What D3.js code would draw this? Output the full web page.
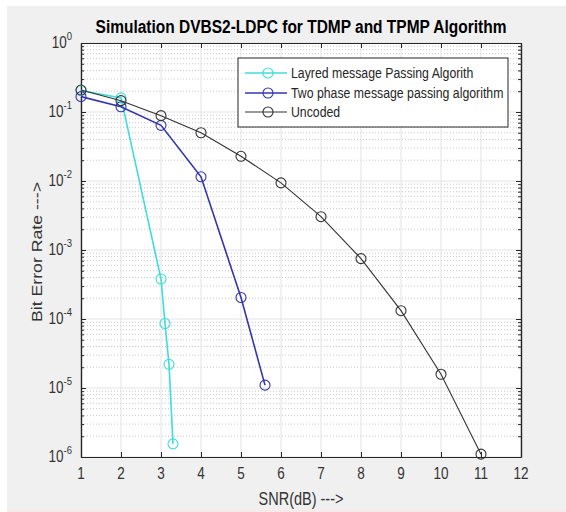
<!DOCTYPE html>
<html lang="en">
<head>
    <meta charset="UTF-8">
    <title>Simulation DVBS2-LDPC for TDMP and TPMP Algorithm</title>
    <style>
        html, body { margin: 0; padding: 0; background: #ffffff; }
        svg { display: block; font-family: "Liberation Sans", Arial, sans-serif; }
    </style>
    <script src="https://cdnjs.cloudflare.com/ajax/libs/d3/7.8.5/d3.min.js"></script>
</head>
<body>
    <div id="chart"></div>
    <script>
        // Data
        const snrLayered = [1, 2, 3, 3.1, 3.2, 3.3];
        const berLayered = [0.205, 0.16, 3.8e-4, 8.6e-5, 2.2e-5, 1.55e-6];

        const snrTwoPhase = [1, 2, 3, 4, 5, 5.6];
        const berTwoPhase = [0.167, 0.119, 0.064, 0.0115, 2.05e-4, 1.1e-5];

        const snrUncoded = [1, 2, 3, 4, 5, 6, 7, 8, 9, 10, 11];
        const berUncoded = [0.208, 0.146, 0.0885, 0.05, 0.0228, 0.0094, 0.00304, 7.5e-4, 1.32e-4, 1.58e-5, 1.1e-6];

        const seriesNames = ["Layred message Passing Algorith", "Two phase message passing algorithm", "Uncoded"];
        const xTicks = [1, 2, 3, 4, 5, 6, 7, 8, 9, 10, 11, 12];
        const yExponents = [0, -1, -2, -3, -4, -5, -6];

        const W = 566, H = 512;
        const margin = { top: 43, right: 45, bottom: 55, left: 81 };
        const width = W - margin.left - margin.right;   // 440
        const height = H - margin.top - margin.bottom;  // 414
        const stretch = 1.22; // the source picture is a bit taller than wide, text looks stretched

        const svg = d3.select("#chart").append("svg")
            .attr("width", W)
            .attr("height", H);

        // figure background
        svg.append("rect").attr("x", 7).attr("y", 6).attr("width", W - 7).attr("height", 504).attr("fill", "#f0f0f0");
        svg.append("rect").attr("x", 7).attr("y", 510).attr("width", W - 7).attr("height", 2).attr("fill", "#fbe9ea");

        const g = svg.append("g").attr("transform", `translate(${margin.left},${margin.top})`);

        const x = d3.scaleLinear().domain([1, 12]).range([0, width]);
        const y = d3.scaleLog().domain([1e-6, 1]).range([height, 0]);

        g.append("rect").attr("width", width).attr("height", height).attr("fill", "#ffffff");

        // minor log values
        const minorVals = [];
        for (let e = -6; e < 0; e++) {
            for (let m = 2; m <= 9; m++) minorVals.push(m * Math.pow(10, e));
        }

        // minor grid (dotted)
        g.append("g").selectAll("line").data(minorVals).enter().append("line")
            .attr("x1", 0).attr("x2", width)
            .attr("y1", d => y(d)).attr("y2", d => y(d))
            .attr("stroke", "#c8c8c8").attr("stroke-width", 1)
            .attr("stroke-dasharray", "1,2");

        // major grid
        g.append("g").selectAll("line").data(xTicks).enter().append("line")
            .attr("x1", d => x(d)).attr("x2", d => x(d))
            .attr("y1", 0).attr("y2", height)
            .attr("stroke", "#e3e3e3").attr("stroke-width", 1);
        g.append("g").selectAll("line").data(yExponents).enter().append("line")
            .attr("x1", 0).attr("x2", width)
            .attr("y1", d => y(Math.pow(10, d))).attr("y2", d => y(Math.pow(10, d)))
            .attr("stroke", "#e3e3e3").attr("stroke-width", 1);

        // axes with inward ticks
        const axisColor = "#262626";
        const xb = g.append("g").attr("transform", `translate(0,${height})`)
            .call(d3.axisBottom(x).tickValues(xTicks).tickSizeInner(-5).tickSizeOuter(0).tickFormat(""));
        g.append("g")
            .call(d3.axisTop(x).tickValues(xTicks).tickSizeInner(-5).tickSizeOuter(0).tickFormat(""));
        g.append("g")
            .call(d3.axisLeft(y).tickValues(yExponents.map(e => Math.pow(10, e))).tickSizeInner(-5).tickSizeOuter(0).tickFormat(""));
        g.append("g").attr("transform", `translate(${width},0)`)
            .call(d3.axisRight(y).tickValues(yExponents.map(e => Math.pow(10, e))).tickSizeInner(-5).tickSizeOuter(0).tickFormat(""));
        // minor y ticks on both sides
        g.append("g").call(d3.axisLeft(y).tickValues(minorVals).tickSizeInner(-3).tickSizeOuter(0).tickFormat(""));
        g.append("g").attr("transform", `translate(${width},0)`)
            .call(d3.axisRight(y).tickValues(minorVals).tickSizeInner(-3).tickSizeOuter(0).tickFormat(""));

        g.selectAll(".domain").attr("stroke", axisColor).attr("stroke-width", 1.2);
        g.selectAll(".tick line").attr("stroke", axisColor);

        // x tick labels
        g.append("g").selectAll("text").data(xTicks).enter().append("text")
            .attr("transform", d => `translate(${x(d)},${height + 22}) scale(1,${stretch})`)
            .attr("text-anchor", "middle")
            .attr("fill", "#333333")
            .style("font-size", "13.5px")
            .text(d => d);

        // y tick labels as 10^e
        const yLab = g.append("g").selectAll("text").data(yExponents).enter().append("text")
            .attr("transform", d => `translate(-9,${y(Math.pow(10, d)) + 5}) scale(1,${stretch})`)
            .attr("text-anchor", "end")
            .attr("fill", "#333333")
            .style("font-size", "13.5px");
        yLab.append("tspan").text("10");
        yLab.append("tspan").attr("dy", -6.5).style("font-size", "9.5px").text(d => d);

        // series
        const series = [
            { name: seriesNames[0], xs: snrLayered, ys: berLayered, color: "#3fdcdc", w: 1.6 },
            { name: seriesNames[1], xs: snrTwoPhase, ys: berTwoPhase, color: "#3434b0", w: 1.6 },
            { name: seriesNames[2], xs: snrUncoded, ys: berUncoded, color: "#333333", w: 1.1 }
        ];

        const line = d3.line().x(d => x(d[0])).y(d => y(d[1]));

        series.forEach(s => {
            const pts = s.xs.map((v, i) => [v, s.ys[i]]);
            g.append("path").datum(pts)
                .attr("d", line)
                .attr("fill", "none")
                .attr("stroke", s.color)
                .attr("stroke-width", s.w);
            g.append("g").selectAll("circle").data(pts).enter().append("circle")
                .attr("cx", d => x(d[0])).attr("cy", d => y(d[1]))
                .attr("r", 5)
                .attr("fill", "none")
                .attr("stroke", s.color)
                .attr("stroke-width", 1.1);
        });

        // legend
        const lg = svg.append("g").attr("transform", "translate(238,58)");
        lg.append("rect").attr("width", 270).attr("height", 69)
            .attr("fill", "#ffffff").attr("stroke", "#262626").attr("stroke-width", 1);
        const rowY = [15, 35, 54];
        series.forEach((s, i) => {
            lg.append("line").attr("x1", 7).attr("x2", 49).attr("y1", rowY[i]).attr("y2", rowY[i])
                .attr("stroke", s.color).attr("stroke-width", s.w);
            lg.append("circle").attr("cx", 30).attr("cy", rowY[i]).attr("r", 5)
                .attr("fill", "none").attr("stroke", s.color).attr("stroke-width", 1.1);
            lg.append("text")
                .attr("transform", `translate(53,${rowY[i] + 5}) scale(1,${stretch})`)
                .attr("fill", "#262626").style("font-size", "12.3px")
                .text(s.name);
        });

        // title and axis labels
        svg.append("text")
            .attr("transform", `translate(${margin.left + width / 2},33) scale(1,${stretch})`)
            .attr("text-anchor", "middle")
            .attr("fill", "#000")
            .style("font-size", "15.5px").style("font-weight", "bold")
            .text("Simulation DVBS2-LDPC for TDMP and TPMP Algorithm");

        svg.append("text")
            .attr("transform", `translate(${margin.left + width / 2},505) scale(1,${stretch})`)
            .attr("text-anchor", "middle")
            .attr("fill", "#333333")
            .style("font-size", "14.5px")
            .text("SNR(dB) --->");

        svg.append("text")
            .attr("transform", `translate(42,${margin.top + height / 2 + 2}) rotate(-90) scale(${stretch},1)`)
            .attr("text-anchor", "middle")
            .attr("fill", "#333333")
            .style("font-size", "14.5px")
            .text("Bit Error Rate --->");
    </script>
</body>
</html>
